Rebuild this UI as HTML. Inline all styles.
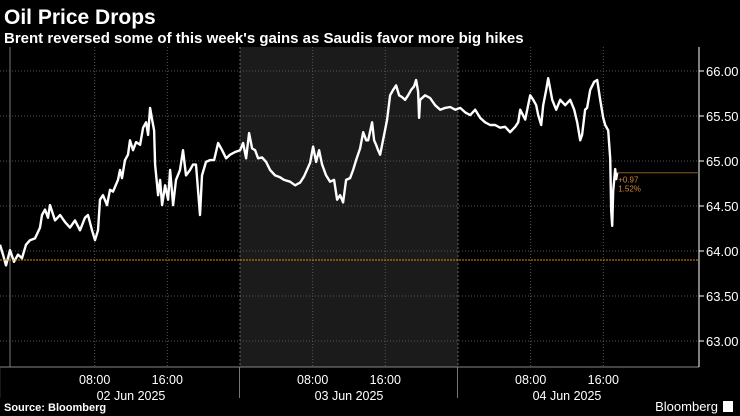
<!DOCTYPE html>
<html><head><meta charset="utf-8"><style>
body{margin:0;background:#000;width:740px;height:416px;overflow:hidden;font-family:"Liberation Sans",sans-serif;color:#fff}
svg{position:absolute;left:0;top:0}
</style></head><body>
<svg width="740" height="416">
<text x="4" y="24" font-size="21" font-weight="bold" fill="#fff">Oil Price Drops</text>
<text x="4" y="43" font-size="15" font-weight="bold" fill="#fff">Brent reversed some of this week's gains as Saudis favor more big hikes</text>
<rect x="240" y="47" width="218" height="320" fill="#1b1b1b"/>
<g id="grid"></g>
<g id="axes"></g>
<path id="line" fill="none" stroke="#fff" stroke-width="2.4" stroke-linejoin="round"/>
<g id="ann"></g>
<text x="4" y="411" font-size="11" font-weight="bold" fill="#fff">Source: Bloomberg</text>
<text x="718" y="411" font-size="13" text-anchor="end" fill="#fff">Bloomberg</text>
<rect x="723" y="401" width="10" height="11" fill="#fff"/>
</svg>
<script>
const hours=[-2.42,-2.09,-1.76,-1.32,-0.88,-0.44,0,0.44,0.88,1.43,1.98,2.2,2.53,2.86,3.08,3.63,4.19,4.74,5.29,5.84,6.39,6.94,7.27,7.71,8.04,8.37,8.59,8.92,9.36,9.69,10.02,10.57,10.79,11.01,11.34,11.67,11.89,12.22,12.56,13,13.33,13.66,13.88,14.1,14.32,14.54,14.65,14.98,15.2,15.42,15.75,16.08,16.3,16.63,16.96,17.4,17.73,18.06,18.5,18.83,19.16,19.38,19.6,19.82,20.26,20.7,21.15,21.59,22.03,22.47,22.91,23.46,24.01,24.34,24.67,25,25.33,25.66,25.99,26.43,26.87,27.31,27.86,28.41,28.85,29.52,30.07,30.62,31.06,31.72,32.05,32.38,32.71,33.04,33.48,33.92,34.36,34.69,35.02,35.35,35.68,36.12,36.45,36.78,37.22,37.56,37.89,38.11,38.55,38.77,38.99,39.21,39.43,39.87,40.2,40.53,40.86,41.19,41.52,41.85,42.18,42.51,42.84,43.17,43.39,43.61,43.72,43.83,44.38,44.93,45.48,46.04,46.59,47.14,47.69,48.24,48.79,49.34,49.89,50.44,50.99,51.54,52.09,52.64,53.19,53.74,54.3,54.63,54.85,55.4,55.95,56.28,56.61,56.83,57.16,57.38,57.71,57.93,58.37,58.81,59.25,59.8,60.35,60.79,61.12,61.45,61.67,62,62.22,62.56,63,63.33,63.66,63.99,64.21,64.54,64.76,64.87,64.98,65.09,65.31,65.42,65.53];
const prices=[64.07,63.96,63.84,64.01,63.88,63.96,63.92,64.07,64.12,64.14,64.26,64.4,64.46,64.37,64.51,64.34,64.4,64.32,64.26,64.34,64.23,64.37,64.4,64.23,64.12,64.23,64.57,64.62,64.51,64.68,64.66,64.79,64.9,64.81,65.01,65.07,65.23,65.12,65.21,65.18,65.37,65.43,65.29,65.59,65.46,65.34,64.96,64.62,64.79,64.51,64.73,64.57,64.9,64.51,64.79,64.9,65.12,64.84,64.9,64.96,64.96,64.68,64.4,64.84,64.99,65.01,65.01,65.2,65.12,65.03,65.07,65.1,65.12,65.2,65.03,65.31,65.14,65.12,65.03,65.04,64.99,64.9,64.84,64.82,64.79,64.77,64.73,64.76,64.83,64.98,65.16,64.99,65.12,64.96,64.84,64.77,64.79,64.57,64.62,64.54,64.79,64.81,64.9,65.01,65.14,65.32,65.23,65.23,65.43,65.23,65.18,65.12,65.07,65.29,65.46,65.73,65.79,65.84,65.73,65.71,65.68,65.73,65.79,65.83,65.9,65.77,65.48,65.68,65.73,65.7,65.62,65.57,65.59,65.6,65.57,65.59,65.54,65.51,65.57,65.48,65.43,65.4,65.4,65.37,65.38,65.32,65.38,65.43,65.57,65.46,65.73,65.68,65.62,65.51,65.4,65.62,65.79,65.92,65.68,65.57,65.68,65.62,65.68,65.57,65.43,65.23,65.29,65.57,65.59,65.79,65.88,65.9,65.68,65.48,65.4,65.34,65.03,64.45,64.28,64.67,64.91,64.8,64.87];
const yTicks=[63.0,63.5,64.0,64.5,65.0,65.5,66.0];
const xTickHours=[8,16,32,40,56,64];
const xTickLabels=["08:00","16:00","08:00","16:00","08:00","16:00"];
const dayLabels=["02 Jun 2025","03 Jun 2025","04 Jun 2025"];
const refPrice=63.9;
const lastChange="+0.97", lastPct="1.52%";
const NS="http://www.w3.org/2000/svg";
const X=h=>22+h*9.083, Y=p=>71+(66-p)*90;
function mk(tag,at,parent){const e=document.createElementNS(NS,tag);for(const k in at)e.setAttribute(k,at[k]);parent.appendChild(e);return e;}
const grid=document.getElementById('grid'),axes=document.getElementById('axes'),ann=document.getElementById('ann');
yTicks.forEach(t=>{
 const l=mk('line',{x1:0,x2:699,y1:Y(t),y2:Y(t),stroke:'#555','stroke-width':1,'stroke-dasharray':'1,2'},grid);
 
 
 const tk=mk('line',{x1:699,x2:704,y1:Y(t),y2:Y(t),stroke:'#fff'},axes);
 
 
 const tx=mk('text',{x:706,y:Y(t)+5,'font-size':13,fill:'#fff'},axes);tx.textContent=t.toFixed(2);
 
 
});
xTickHours.forEach((h,i)=>{
 const l=mk('line',{x1:X(h),x2:X(h),y1:47,y2:367,stroke:'#555','stroke-dasharray':'1,2'},grid);
 
 
 const tx=mk('text',{x:X(h),y:384,'font-size':12.5,fill:'#fff','text-anchor':'middle'},axes);tx.textContent=xTickLabels[i];
 
 
});
[24,48].forEach(h=>{const l=mk('line',{x1:X(h),x2:X(h),y1:47,y2:367,stroke:'#666','stroke-dasharray':'2,2'},grid);
 
 });
[-2.4,24,48].forEach(h=>{const l=mk('line',{x1:X(h)-0.5,x2:X(h)-0.5,y1:367,y2:398,stroke:'#777'},axes);
 
 });
dayLabels.forEach((d,i)=>{const tx=mk('text',{x:X(i*24+12),y:400,'font-size':12.5,fill:'#fff','text-anchor':'middle'},axes);tx.textContent=d;
 
 });
let a=mk('line',{x1:10,x2:10,y1:47,y2:367,stroke:'#777'},grid);

a=mk('line',{x1:0,x2:699,y1:367,y2:367,stroke:'#888'},axes);

a=mk('line',{x1:699,x2:699,y1:47,y2:367,stroke:'#fff'},axes);

a=mk('line',{x1:0,x2:699,y1:Y(refPrice),y2:Y(refPrice),stroke:'#e08a00','stroke-dasharray':'2,1'},ann);

const last=prices[prices.length-1],lh=hours[hours.length-1];
a=mk('line',{x1:X(lh),x2:699,y1:Y(last),y2:Y(last),stroke:'#8a5a20'},ann);

a=mk('text',{x:X(lh)+1,y:Y(last)+10,'font-size':8,fill:'#d08a30'},ann);a.textContent=lastChange;

a=mk('text',{x:X(lh)+1,y:Y(last)+19,'font-size':8,fill:'#d08a30'},ann);a.textContent=lastPct;

document.getElementById('line').setAttribute('d',hours.map((h,i)=>(i?'L':'M')+X(h).toFixed(1)+','+Y(prices[i]).toFixed(1)).join(''));
</script>
</body></html>
